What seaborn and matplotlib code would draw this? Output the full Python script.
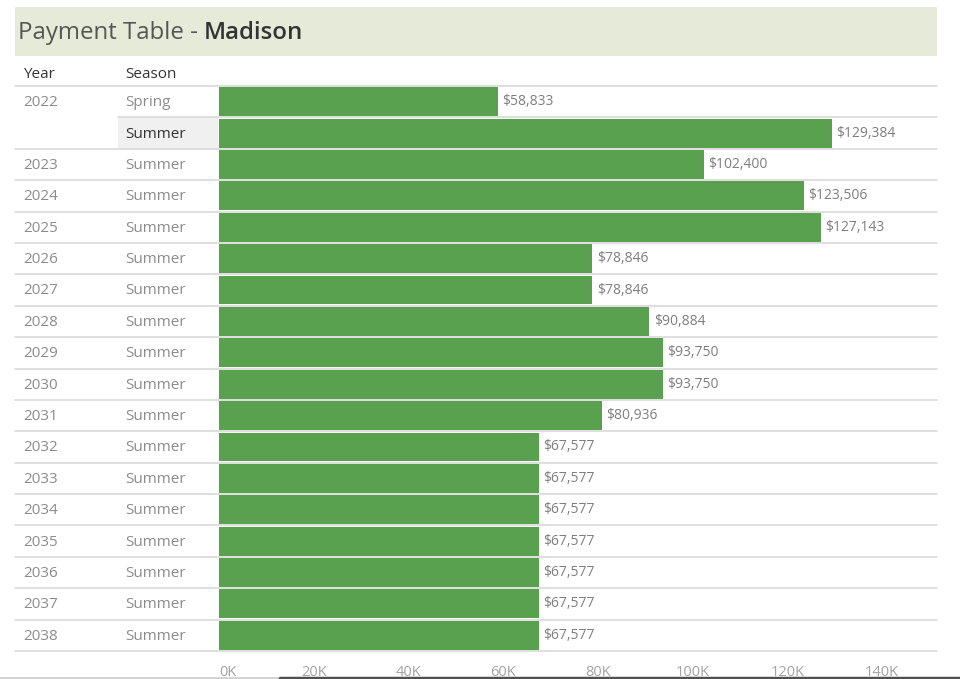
import matplotlib
matplotlib.use("Agg")
import matplotlib.pyplot as plt
from matplotlib.lines import Line2D
from matplotlib.patches import Rectangle
import seaborn as sns
import pandas as pd

# ---- data ----
years = ["2022", "", "2023", "2024", "2025", "2026", "2027", "2028", "2029",
         "2030", "2031", "2032", "2033", "2034", "2035", "2036", "2037", "2038"]
seasons = ["Spring"] + ["Summer"] * 17
payments = [58833, 129384, 102400, 123506, 127143, 78846, 78846, 90884, 93750,
            93750, 80936, 67577, 67577, 67577, 67577, 67577, 67577, 67577]
tick_values = [0, 20000, 40000, 60000, 80000, 100000, 120000, 140000]
tick_labels = ["0K", "20K", "40K", "60K", "80K", "100K", "120K", "140K"]

row_keys = []
cur_year = ""
for y, s in zip(years, seasons):
    if y:
        cur_year = y
    row_keys.append(f"{cur_year} {s}")
df = pd.DataFrame({"row": row_keys, "payment": payments})

sns.set_theme(style="white")
plt.rcParams["font.family"] = ["Open Sans", "DejaVu Sans"]

W, H = 960, 679
fig = plt.figure(figsize=(W / 100, H / 100), dpi=100)
fig.patch.set_facecolor("white")

ax_l, ax_r, ax_t, ax_b = 219, 937, 86, 651
ax = fig.add_axes([ax_l / W, 1 - ax_b / H, (ax_r - ax_l) / W, (ax_b - ax_t) / H])

GREEN = "#59a14f"
sns.barplot(data=df, x="payment", y="row", order=row_keys, orient="h",
            color=GREEN, saturation=1, width=0.92, ax=ax, linewidth=0)

xmax = 151600
ax.set_xlim(0, xmax)
ax.set_ylim(len(row_keys) - 0.5, -0.5)
ax.set_xlabel("")
ax.set_ylabel("")
ax.set_yticks([])
ax.set_xticks(tick_values)
ax.set_xticklabels(tick_labels, color="#a3a3a3", fontsize=10.5)
ax.tick_params(axis="x", length=0, pad=10)
ax.get_xticklabels()[0].set_ha("left")
for sp in ax.spines.values():
    sp.set_visible(False)

# value labels
for i, v in enumerate(payments):
    ax.text(v + 900, i, f"${v:,}", va="center", ha="left",
            fontsize=10, color="#7f7f7f")

def px_to_ax(px):
    return (px - ax_l) / (ax_r - ax_l)

trans = ax.get_yaxis_transform()

# Season highlight for 2022 Summer
ax.add_patch(Rectangle((px_to_ax(118), 0.5), px_to_ax(218) - px_to_ax(118), 1.0,
                       transform=trans, facecolor="#f0f0f0", edgecolor="none",
                       clip_on=False, zorder=0))

# row separators
sep_color = "#d6d6d6"
for b in range(len(row_keys) + 1):
    yb = b - 0.5
    start = px_to_ax(118) if b == 1 else px_to_ax(15)
    ax.add_line(Line2D([start, 1.0], [yb, yb], transform=trans, color=sep_color,
                       lw=1.1, clip_on=False, zorder=0.5))

# year / season columns
for i, (y, s) in enumerate(zip(years, seasons)):
    if y:
        ax.text(px_to_ax(23), i + 0.03, y, transform=trans, va="center", ha="left",
                fontsize=11, color="#8c8c8c", clip_on=False)
    ax.text(px_to_ax(125), i + 0.03, s, transform=trans, va="center", ha="left",
            fontsize=11, color="#333333" if (i == 1) else "#8c8c8c", clip_on=False)

# header
fig.text(23 / W, 1 - 74 / H, "Year", fontsize=11, color="#333333", va="center", ha="left")
fig.text(125 / W, 1 - 74 / H, "Season", fontsize=11, color="#333333", va="center", ha="left")

# title bar
fig.patches.append(Rectangle((15 / W, 1 - 56 / H), (937 - 15) / W, (56 - 7) / H,
                             transform=fig.transFigure, facecolor="#e6ead9",
                             edgecolor="none", zorder=0))
t1 = fig.text(18 / W, 1 - 33 / H, "Payment Table - ", fontsize=17.3, color="#555555",
              va="center", ha="left")
fig.canvas.draw()
bb = t1.get_window_extent()
fig.text(bb.x1 / W, 1 - 33 / H, "Madison", fontsize=17.3, color="#333333",
         fontweight=600, va="center", ha="left")

# bottom scrollbar artifact
fig.add_artist(Line2D([0, 280 / W], [1 - 677.5 / H] * 2, transform=fig.transFigure,
                      color="#d0d0d0", lw=2))
fig.add_artist(Line2D([280 / W, 1], [1 - 677.5 / H] * 2, transform=fig.transFigure,
                      color="#505050", lw=2.5))

fig.savefig("out.png", dpi=100)
